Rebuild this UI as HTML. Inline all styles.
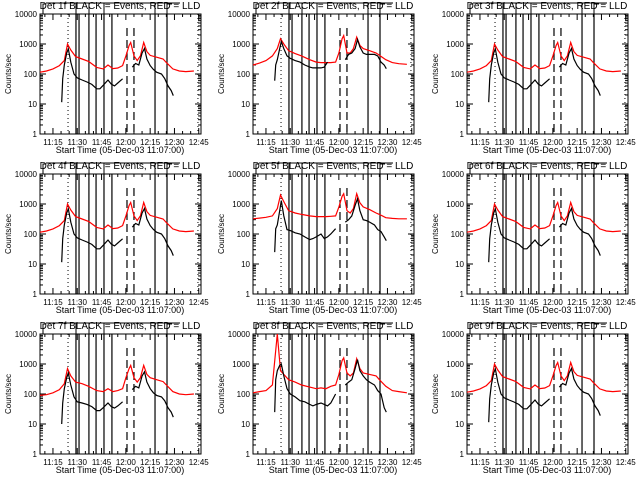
<!DOCTYPE html>
<html><head><meta charset="utf-8">
<style>
html,body{margin:0;padding:0;background:#fff;}
svg{display:block;font-family:"Liberation Sans",sans-serif;}
</style></head>
<body>
<svg id="chart" width="640" height="480" viewBox="0 0 640 480" xmlns="http://www.w3.org/2000/svg"></svg>
<script>
// Time axis: minutes since 11:07:00
const xTickLabels = ["11:15","11:30","11:45","12:00","12:15","12:30","12:45"];
const xTickMinutes = [8,23,38,53,68,83,98];
const yTickLabels = ["1","10","100","1000","10000"];
const yTickValues = [1,10,100,1000,10000];
const detectors = ["1f","2f","3f","4f","5f","6f","7f","8f","9f"];

const redTimes = [0,4,8,12,15,17,19,22,26,30,35,39,42,45,48,51,53,55,56,58,60,62,64,66,68,72,76,78,82,86,90,95];
const blackTimes = [13.4,14,15,16.5,17.5,19,21,23,26,29,32,35,37,39,42,44,46,48,51,null,57,59,61,63,64.5,66,68,70,72,75,77,79,81,82.3];

const red1 = [115,126,148,190,280,1000,630,380,316,263,166,148,200,151,158,190,400,890,1120,400,280,400,1120,560,417,363,316,240,148,126,120,126];
const black1 = [11.5,69,200,500,690,250,100,74,63,54,45,32,32,42,63,46,40,50,69,null,170,224,200,500,708,316,190,141,115,100,71,40,28,19];

const red2 = [200,230,280,400,700,1500,1000,600,480,400,300,250,240,240,240,250,500,1500,1900,500,500,700,1700,900,700,600,500,420,300,240,220,210];
const black2 = [60,200,300,700,1200,700,400,330,280,250,200,170,160,160,160,170,250,null,null,null,300,450,500,700,1400,800,500,450,450,450,400,250,200,150];

const red5 = [320,340,360,400,700,2000,1200,600,500,450,400,380,380,380,390,400,800,1800,2200,600,500,700,2200,1100,800,650,500,450,350,330,320,320];
const black5 = [25,150,200,600,1300,400,140,130,110,100,80,65,70,80,100,70,80,100,150,null,250,300,400,900,1500,600,300,280,250,200,140,120,80,60];

const red7 = [90,95,110,140,220,700,400,250,220,180,130,120,150,120,130,150,350,700,900,350,250,350,900,450,350,300,260,200,120,100,95,100];
const black7 = [10,50,150,350,500,200,80,55,50,45,38,28,28,35,50,38,34,40,55,null,140,180,160,400,550,250,150,110,90,80,60,35,25,17];

const red8 = [110,120,130,200,10000,600,450,300,250,200,170,150,160,150,180,200,450,1300,1600,500,400,500,1500,700,500,450,400,300,180,130,120,110];
const black8 = [25,300,600,900,1000,400,150,100,80,60,55,45,40,45,50,45,40,50,100,null,200,250,300,700,1400,600,400,300,250,200,130,100,35,25];

const redSeries = [red1,red2,red1,red1,red5,red1,red7,red8,red1];
const blackSeries = [black1,black2,black1,black1,black5,black1,black7,black8,black1];

// event markers (minutes)
const dottedMarks = [17.3,97.5];
const solidMarks = [22.2,24.1,30.2,34.6,39.5,44.4,71,78.4];
const dashedMarks = [53.7,58];

const NS="http://www.w3.org/2000/svg";
const svg=document.getElementById('chart');
function mk(tag,attrs,parent){const e=document.createElementNS(NS,tag);for(const k in attrs)e.setAttribute(k,attrs[k]);(parent||svg).appendChild(e);return e;}

const PX0=40, PX1=201, PY0=14, PY1=134;
const xScale=m=>PX0+m*1.62;
const yScale=v=>PY1-Math.log10(v)*30;

detectors.forEach((det,i)=>{
  const ox=Math.round((i%3)*213.3), oy=Math.floor(i/3)*160;
  const g=mk('g',{transform:`translate(${ox},${oy})`});
  
  

  // title
  const t=mk('text',{x:120,y:9,'font-size':10,'text-anchor':'middle',fill:'#000'},g);
  t.textContent=`Det ${det} BLACK = Events, RED = LLD`;
  
  
  const ov=mk('path',{d:'M46,3 H180 M43,14 V4 H46 M76,14 V3 M89,14 V3 M104,14 V3 M155,14 V3 M167,14 V4 H172',stroke:'#000','stroke-width':1,fill:'none'},g);
  
  

  // axes box
  const box=mk('rect',{x:PX0,y:PY0,width:PX1-PX0,height:PY1-PY0,fill:'none',stroke:'#000','stroke-width':1},g);
  
  

  // y ticks
  yTickValues.forEach((v,k)=>{
    const y=yScale(v);
    mk('line',{x1:PX0,x2:PX0+6,y1:y,y2:y,stroke:'#000'},g);
    mk('line',{x1:PX1,x2:PX1-6,y1:y,y2:y,stroke:'#000'},g);
    const lb=mk('text',{x:PX0-3,y:y+3,'font-size':8,'text-anchor':'end'},g);
    lb.textContent=yTickLabels[k];
    
    
    if(k<yTickValues.length-1){for(let m=2;m<10;m++){const yy=yScale(v*m);
      mk('line',{x1:PX0,x2:PX0+3,y1:yy,y2:yy,stroke:'#000'},g);
      mk('line',{x1:PX1,x2:PX1-3,y1:yy,y2:yy,stroke:'#000'},g);}}
  });
  // x ticks
  xTickMinutes.forEach((m,k)=>{
    const x=xScale(m);
    mk('line',{x1:x,x2:x,y1:PY1,y2:PY1-6,stroke:'#000'},g);
    mk('line',{x1:x,x2:x,y1:PY0,y2:PY0+6,stroke:'#000'},g);
    const lb=mk('text',{x:x,y:PY1+11,'font-size':8,'text-anchor':'middle'},g);
    lb.textContent=xTickLabels[k];
    
    
  });
  for(let m=3;m<100;m+=5){if((m-8)%15===0)continue;const x=xScale(m);
    mk('line',{x1:x,x2:x,y1:PY1,y2:PY1-3,stroke:'#000'},g);
    mk('line',{x1:x,x2:x,y1:PY0,y2:PY0+3,stroke:'#000'},g);}

  const yl=mk('text',{transform:`translate(11,${(PY0+PY1)/2}) rotate(-90)`,'font-size':8,'text-anchor':'middle'},g);
  yl.textContent='Counts/sec';
  
  
  const xl=mk('text',{x:120,y:153,'font-size':9,'text-anchor':'middle'},g);
  xl.textContent='Start Time (05-Dec-03 11:07:00)';
  
  

  // markers
  dottedMarks.forEach(m=>{const l=mk('line',{x1:xScale(m),x2:xScale(m),y1:PY0,y2:PY1,stroke:'#000','stroke-dasharray':'1,3'},g);
    });
  solidMarks.forEach(m=>{const l=mk('line',{x1:xScale(m),x2:xScale(m),y1:PY0,y2:PY1,stroke:'#000','stroke-width':1.2},g);
    });
  dashedMarks.forEach(m=>{const l=mk('line',{x1:xScale(m),x2:xScale(m),y1:PY0+14,y2:PY1,stroke:'#000','stroke-width':1.2,'stroke-dasharray':'8,4'},g);
    });

  // series
  function pathFor(times,vals){let d='',pen=false;
    times.forEach((t,j)=>{const v=vals[j];if(t===null||v===null){pen=false;return;}
      const x=xScale(t),y=Math.max(PY0,yScale(v));d+=(pen?'L':'M')+x.toFixed(1)+','+y.toFixed(1);pen=true;});return d;}
  const rp=mk('path',{d:pathFor(redTimes,redSeries[i]),stroke:'#f00','stroke-width':1.2,fill:'none'},g);
  
  
  const bp=mk('path',{d:pathFor(blackTimes,blackSeries[i]),stroke:'#000','stroke-width':1.2,fill:'none'},g);
  
  
});
</script>
</body></html>
